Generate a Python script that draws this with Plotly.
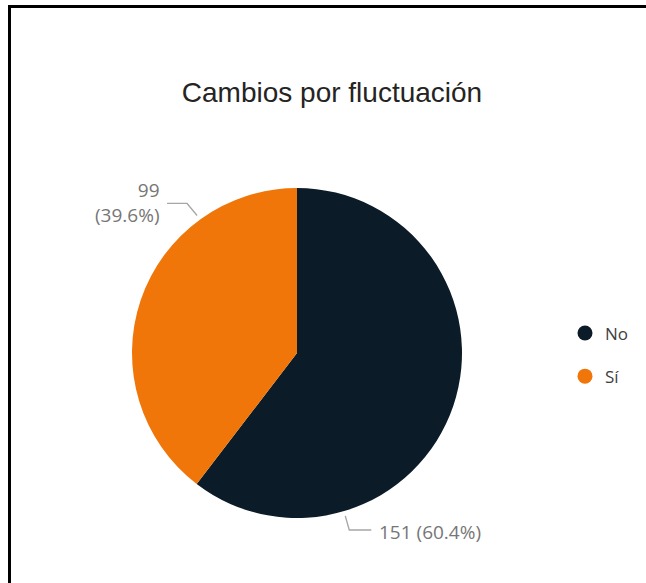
import math
import plotly.graph_objects as go

# ---- data ----
categories = ["No", "Sí"]
values = [151, 99]
colors = ["#0B1B28", "#F0760A"]
title_text = "Cambios por fluctuación"

W, H = 646, 583
total = sum(values)
pct = [v / total * 100 for v in values]

# pie geometry (pixels)
CX, CY, R = 297, 353, 165


def px(x):
    return x / W


def py(y):
    return 1 - y / H


fig = go.Figure()
fig.add_trace(go.Pie(
    labels=categories, values=values, marker=dict(colors=colors),
    sort=False, direction="clockwise", rotation=0,
    textinfo="none", hoverinfo="label+value+percent", showlegend=False,
    domain=dict(x=[px(CX - R), px(CX + R)], y=[py(CY + R), py(CY - R)]),
))

# legend via dummy traces (circular symbols)
for c, col in zip(categories, colors):
    fig.add_trace(go.Scatter(x=[None], y=[None], mode="markers", name=c,
                             marker=dict(symbol="circle", size=15, color=col),
                             legendgroup=c, showlegend=True))

# data labels with leader lines
label_cfg = {
    "Sí": dict(angle=324, dir=-1),
    "No": dict(angle=163.5, dir=1),
}
shapes = []
annotations = []
line_col = "#A6A6A6"
lab_font = dict(family="Open Sans, Noto Sans, sans-serif", size=19, color="#767676")
for c, v, p in zip(categories, values, pct):
    cfg = label_cfg[c]
    a = math.radians(cfg["angle"])
    rx = CX + (R + 5) * math.sin(a)
    ry = CY - (R + 5) * math.cos(a)
    if cfg["dir"] < 0:
        ex, ey = rx - 10, ry - 12
        hx = ex - 20
        shapes.append(dict(type="path", xref="paper", yref="paper",
                           path=f"M {px(rx)} {py(ry)} L {px(ex)} {py(ey)} L {px(hx)} {py(ey)}",
                           line=dict(color=line_col, width=1.3)))
        annotations.append(dict(x=px(hx - 5), y=py(ey - 1), xref="paper", yref="paper",
                                text=f"{v}<br>({p:.1f}%)", showarrow=False,
                                xanchor="right", yanchor="middle", align="right",
                                font=lab_font))
    else:
        ex, ey = rx + 4, ry + 14
        hx = ex + 22
        shapes.append(dict(type="path", xref="paper", yref="paper",
                           path=f"M {px(rx)} {py(ry)} L {px(ex)} {py(ey)} L {px(hx)} {py(ey)}",
                           line=dict(color=line_col, width=1.3)))
        annotations.append(dict(x=px(hx + 6), y=py(ey + 2), xref="paper", yref="paper",
                                text=f"{v} ({p:.1f}%)", showarrow=False,
                                xanchor="left", yanchor="middle", align="left",
                                font=lab_font))

# outer frame (only top and left edges fall inside the picture)
shapes.append(dict(type="line", xref="paper", yref="paper",
                   x0=px(8), x1=1.0, y0=py(6.5), y1=py(6.5),
                   line=dict(color="#000000", width=3)))
shapes.append(dict(type="line", xref="paper", yref="paper",
                   x0=px(9.5), x1=px(9.5), y0=py(5), y1=0.0,
                   line=dict(color="#000000", width=3)))

fig.update_layout(
    width=W, height=H, autosize=False,
    margin=dict(l=0, r=0, t=0, b=0),
    paper_bgcolor="white", plot_bgcolor="white",
    title=dict(text=title_text, x=px(332), xref="paper", xanchor="center",
               y=py(92), yref="paper", yanchor="middle",
               font=dict(family="Liberation Sans, Arial, sans-serif", size=28, color="#252423")),
    xaxis=dict(visible=False), yaxis=dict(visible=False),
    legend=dict(x=px(565), y=py(355), xanchor="left", yanchor="middle",
                font=dict(family="Open Sans, Noto Sans, sans-serif", size=17, color="#404040"),
                tracegroupgap=18, bgcolor="rgba(0,0,0,0)", itemclick=False),
    shapes=shapes, annotations=annotations,
)

fig.write_html("out.html", config={"displayModeBar": False},
               post_script="document.body.style.margin='0';document.body.style.overflow='hidden';")
